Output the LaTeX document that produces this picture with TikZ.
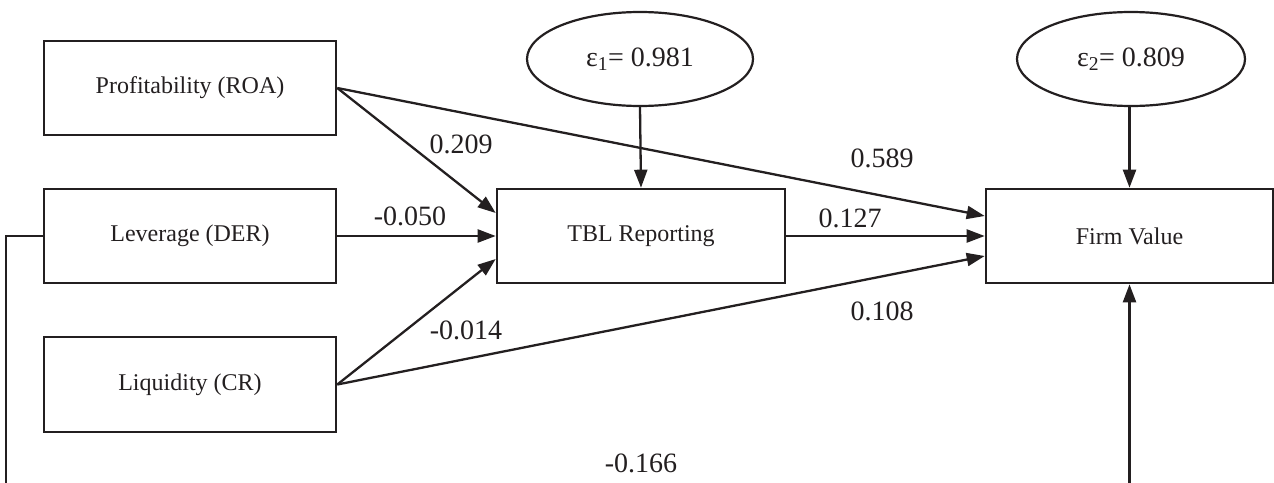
\documentclass[tikz,border=0pt]{standalone}
\usepackage{fontspec}
\setmainfont{Liberation Serif}
\usetikzlibrary{arrows.meta,shapes.geometric}
\definecolor{ink}{HTML}{231F20}
\begin{document}
\begin{tikzpicture}[x=1pt,y=-1pt,
  box/.style={draw=ink, line width=2.6pt, minimum width=292pt, minimum height=94pt, inner sep=0pt, font=\fontsize{24}{28}\selectfont, text=ink},
  err/.style={ellipse, draw=ink, line width=2.2pt, minimum width=226pt, minimum height=94pt, inner sep=0pt, font=\fontsize{28}{32}\selectfont, text=ink},
  lbl/.style={font=\fontsize{28}{32}\selectfont, inner sep=0pt, text=ink},
  arr/.style={draw=ink, line width=2.3pt, -{Triangle[length=18pt,width=13pt]}},
  ln/.style={draw=ink, line width=2.3pt}]
\useasboundingbox (0,0) rectangle (1274,482);
\node[box] (prof) at (190,88) {Profitability (ROA)};
\node[box] (lev) at (190,236) {Leverage (DER)};
\node[box, minimum height=95pt] (liq) at (190,384.5) {Liquidity (CR)};
\node[box, minimum width=288pt] (tbl) at (641,236) {TBL Reporting};
\node[box, minimum width=287pt] (firm) at (1129.5,236) {Firm Value};
\node[err] (e1) at (640,59) {ε\textsubscript{1}= 0.981};
\node[err, minimum width=228pt] (e2) at (1131,59) {ε\textsubscript{2}= 0.809};
\draw[arr] (e1.south) -- (tbl.north);
\draw[arr] (e2.south -| firm.north) -- (firm.north);
\draw[arr] (prof.east) -- ([yshift=23pt]tbl.west);
\draw[arr] (prof.east) -- ([yshift=20pt]firm.west);
\draw[arr] (lev.east) -- (tbl.west);
\draw[arr] (tbl.east) -- (firm.west);
\draw[arr] (liq.east) -- ([yshift=-23pt]tbl.west);
\draw[arr] (liq.east) -- ([yshift=-20pt]firm.west);
\coordinate (bl) at (6,500);
\coordinate (br) at (firm.south |- bl);
\draw[ln] (lev.west) -| (bl) -- (br);
\draw[arr] (br) -- (firm.south);
\node[lbl] (l1) at (461,144) {0.209};
\node[lbl] (l2) at (410,216) {-0.050};
\node[lbl] (l3) at (882,158) {0.589};
\node[lbl] (l4) at (850,218) {0.127};
\node[lbl] (l5) at (882,311) {0.108};
\node[lbl] (l6) at (466,330) {-0.014};
\node[lbl] (l7) at (641,463) {-0.166};
\end{tikzpicture}
\end{document}
